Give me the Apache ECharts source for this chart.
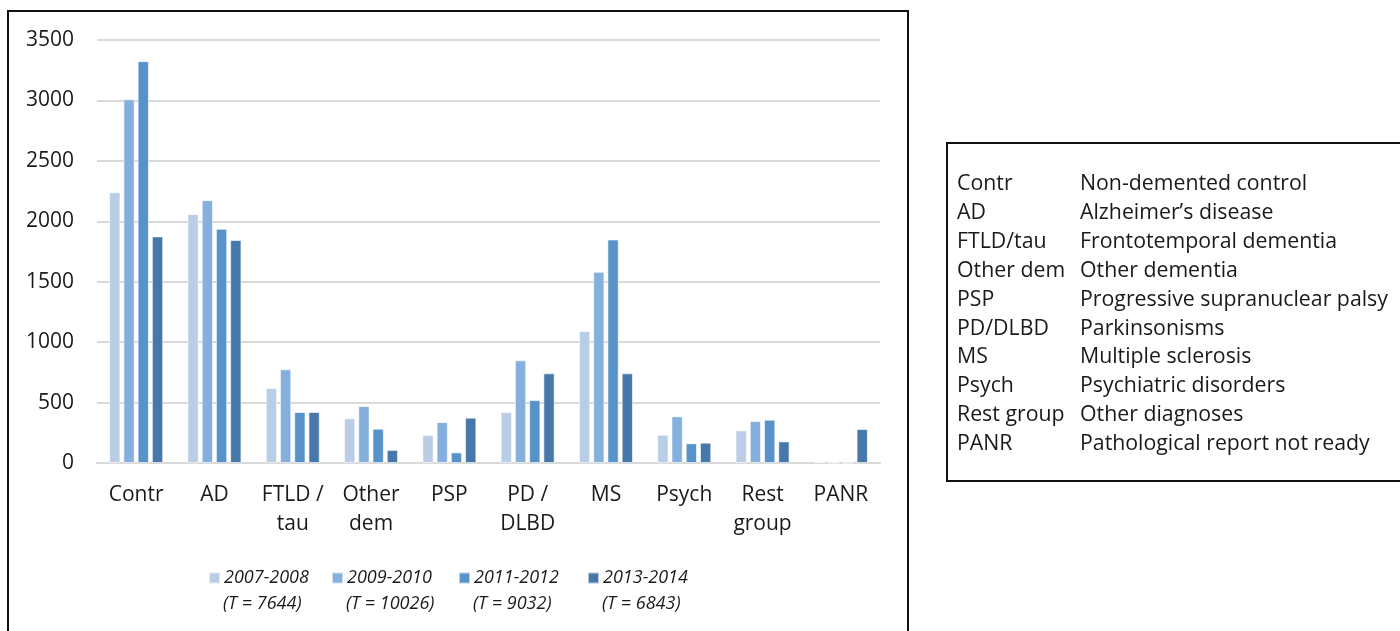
<!DOCTYPE html>
<html>
<head>
<meta charset="utf-8">
<script src="https://cdn.jsdelivr.net/npm/echarts@6/dist/echarts.min.js"></script>
<style>
  html, body { margin: 0; padding: 0; background: #fff; }
  #chart { width: 1400px; height: 631px; }
</style>
</head>
<body>
<div id="chart"></div>
<script>
// categories on the x axis
const categories = ["Contr", "AD", "FTLD /\ntau", "Other\ndem", "PSP", "PD /\nDLBD", "MS", "Psych", "Rest\ngroup", "PANR"];

// one array per period
const periods = ["2007-2008", "2009-2010", "2011-2012", "2013-2014"];
const totals = [7644, 10026, 9032, 6843];
const v2007 = [2240, 2060, 620, 370, 232, 422, 1092, 234, 270, 11];
const v2009 = [3010, 2175, 775, 471, 339, 850, 1582, 386, 347, 3];
const v2011 = [3325, 1938, 422, 284, 88, 521, 1850, 163, 358, 0];
const v2013 = [1875, 1845, 422, 108, 375, 742, 742, 168, 179, 281];

// y axis ticks
const yMin = 0, yMax = 3500, yStep = 500;

// abbreviation key (right box)
const abbrevs = ["Contr", "AD", "FTLD/tau", "Other dem", "PSP", "PD/DLBD", "MS", "Psych", "Rest group", "PANR"];
const meanings = ["Non-demented control", "Alzheimer\u2019s disease", "Frontotemporal dementia", "Other dementia",
  "Progressive supranuclear palsy", "Parkinsonisms", "Multiple sclerosis", "Psychiatric disorders",
  "Other diagnoses", "Pathological report not ready"];

const colors = ["#b9cde6", "#85afdc", "#5793c9", "#4679a9"];
const allValues = [v2007, v2009, v2011, v2013];
const FONT = "Open Sans";

const chart = echarts.init(document.getElementById("chart"), null, { renderer: "canvas" });

// bar series
const series = periods.map((p, i) => ({
  name: p,
  type: "bar",
  data: allValues[i],
  barGap: "26%",
  barCategoryGap: "31%",
  itemStyle: { color: colors[i], borderColor: "rgba(255,255,255,0.6)", borderWidth: 1 },
  emphasis: { disabled: true }
}));

// one legend per period so the totals can sit under each entry
const legendX = [208, 331, 458, 587];
const legends = periods.map((p, i) => ({
  data: [p],
  left: legendX[i],
  top: 569,
  padding: 0,
  itemWidth: 11,
  itemHeight: 11,
  itemGap: 4,
  selectedMode: false,
  icon: "rect",
  textStyle: { fontFamily: FONT, fontStyle: "italic", fontSize: 18, color: "#1a1a1a", padding: [0, 0, 0, -1] }
}));

const graphics = [];
// outer chart frame
graphics.push({ type: "rect", shape: { x: 8, y: 11, width: 900, height: 640 },
  style: { fill: "none", stroke: "#111", lineWidth: 2 }, silent: true });
// totals under the legend entries
periods.forEach((p, i) => {
  graphics.push({ type: "text", x: legendX[i] + 15, y: 604,
    style: { text: "(T = " + totals[i] + ")", fontFamily: FONT, fontStyle: "italic", fontSize: 18, fill: "#1a1a1a", verticalAlign: "middle" } });
});
// abbreviation box
graphics.push({ type: "rect", shape: { x: 947, y: 143, width: 460, height: 338 },
  style: { fill: "none", stroke: "#111", lineWidth: 2 }, silent: true });
abbrevs.forEach((a, i) => {
  const y = 184 + i * 28.9;
  graphics.push({ type: "text", x: 957, y: y,
    style: { text: a, fontFamily: FONT, fontSize: 21.3, fill: "#1a1a1a", verticalAlign: "middle" } });
  graphics.push({ type: "text", x: 1080, y: y,
    style: { text: meanings[i], fontFamily: FONT, fontSize: 21.3, fill: "#1a1a1a", verticalAlign: "middle" } });
});

chart.setOption({
  animation: false,
  backgroundColor: "#fff",
  color: colors,
  grid: { left: 97, right: 520, top: 40, bottom: 168, containLabel: false },
  legend: legends,
  xAxis: {
    type: "category",
    data: categories,
    axisLine: { show: true, lineStyle: { color: "#d9d9d9", width: 2 } },
    axisTick: { show: false },
    axisLabel: { fontFamily: FONT, fontSize: 21, color: "#1a1a1a", margin: 18, lineHeight: 29, interval: 0 }
  },
  yAxis: {
    type: "value",
    min: yMin,
    max: yMax,
    interval: yStep,
    axisLine: { show: false },
    axisTick: { show: false },
    axisLabel: { fontFamily: FONT, fontSize: 21, color: "#1a1a1a", margin: 23, formatter: (v) => String(v) },
    splitLine: { lineStyle: { color: "#d9d9d9", width: 2 } }
  },
  series: series,
  graphic: graphics
});
</script>
</body>
</html>
